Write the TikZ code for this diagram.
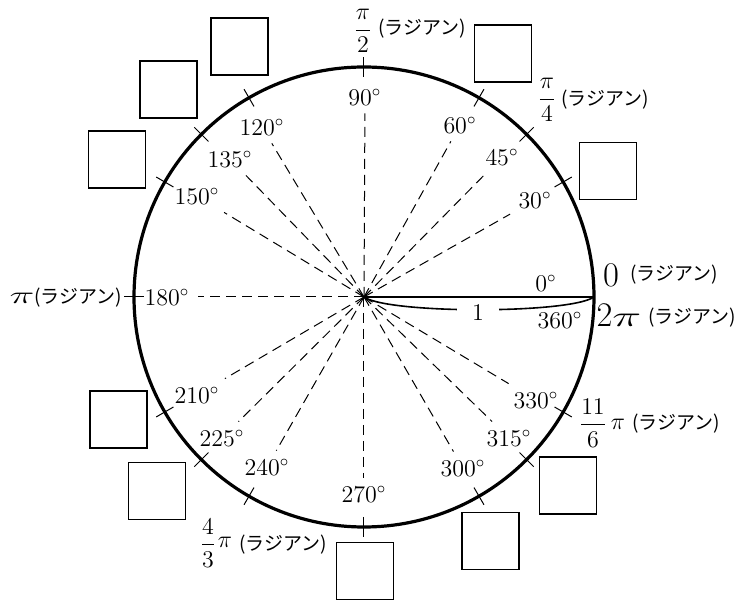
\documentclass[tikz,border=0pt]{standalone}
\usepackage{amsmath}
\usepackage{graphicx}
\usepackage{fontspec}
\newfontfamily\jpfont{Noto Sans CJK JP}
\begin{document}
\begin{tikzpicture}[x=0.5pt,y=0.5pt,
  deg/.style={font=\fontsize{12}{14}\selectfont, inner sep=4pt},
  box/.style={draw, line width=0.8pt, minimum size=28.5pt, inner sep=0pt},
  rad/.style={font=\jpfont\fontsize{9.5}{11}\selectfont, inner sep=0pt},
  fracl/.style={font=\fontsize{12.6}{15}\selectfont, inner sep=0pt},
  big/.style={font=\fontsize{16}{18}\selectfont, inner sep=0pt},
  ray/.style={dash pattern=on 5pt off 3pt, line width=0.5pt},
  tickmark/.style={line width=0.5pt}]
\useasboundingbox (-364,-307) rectangle (391,297);
\coordinate (O) at (0,0);
\coordinate (E) at (0:230);
% circle
\draw[line width=1.6pt] (O) circle[radius=230];
% ticks
\foreach \a in {30,45,60,90,120,135,150,180,210,225,240,270,300,315,330}
  \draw[tickmark] (\a:220) -- (\a:240);
% degree labels
\foreach \a/\x/\y in {30/171/97, 45/138/140, 60/96/172, 90/1/200,
    120/-102/170, 135/-134/138, 150/-167/101, 180/-197/0,
    210/-167/-98, 225/-142/-141, 240/-97/-170, 270/0/-197,
    300/99/-171, 315/145/-141, 330/172/-103}
  \node[deg] (d\a) at (\x,\y) {$\a^\circ$};
\node[deg] (d0) at (182,14) {$0^\circ$};
\node[deg] (d360) at (196,-23) {$360^\circ$};
% dashed rays
\foreach \a in {30,45,60,90,120,135,150,180,210,225,240,270,300,315,330}
  \draw[ray] (O) -- (d\a);
% radius and brace
\draw[line width=1pt] (O) -- (E);
\draw[line width=0.8pt] (O) .. controls (25,-17) and (205,-17) .. (E);
\node[fill=white, inner xsep=7.5pt, inner ysep=1pt, font=\fontsize{12}{14}\selectfont] (one) at (114,-16) {$1$};
% boxes
\node[box] (b1) at (-124.5,250.5) {};
\node[box] (b2) at (-195.5,207.5) {};
\node[box] (b3) at (-247,137.5) {};
\node[box] (b4) at (139,243.5) {};
\node[box] (b5) at (244,126) {};
\node[box] (b6) at (-245.5,-122.5) {};
\node[box] (b7) at (-207,-194) {};
\node[box] (b8) at (1,-274) {};
\node[box] (b9) at (126.5,-244) {};
\node[box] (b10) at (204,-188.5) {};
% radian labels
\node[fracl] (f2) at (-1,266) {$\dfrac{\pi}{2}$};
\node[rad] (r2) at (58,268) {(ラジアン)};
\node[fracl] (f4) at (183,197) {$\dfrac{\pi}{4}$};
\node[rad] (r4) at (241,197) {(ラジアン)};
\node[big] (z0) at (247,22) {$0$};
\node[rad] (r0) at (310,22) {(ラジアン)};
\node[big] (tp) at (255,-18) {$2$\fontsize{14}{16}\selectfont\scalebox{1.7}[1]{$\pi$}};
\node[rad] (r2p) at (328,-21) {(ラジアン)};
\node[inner sep=0pt, font=\fontsize{12}{14}\selectfont] (lp) at (-342,-1) {\scalebox{1.75}[1]{$\pi$}};
\node[rad] (rl) at (-286,-1) {(ラジアン)};
\node[fracl] (f11) at (229,-126) {$\dfrac{11}{6}$};
\node[inner sep=0pt, font=\fontsize{13}{15}\selectfont] (p11) at (254,-127) {$\pi$};
\node[rad] (r11) at (312,-127) {(ラジアン)};
\node[fracl] (f43) at (-156,-246) {$\dfrac{4}{3}$};
\node[inner sep=0pt, font=\fontsize{13}{15}\selectfont] (p43) at (-139,-245) {$\pi$};
\node[rad] (r43) at (-81,-248) {(ラジアン)};
\end{tikzpicture}
\end{document}
